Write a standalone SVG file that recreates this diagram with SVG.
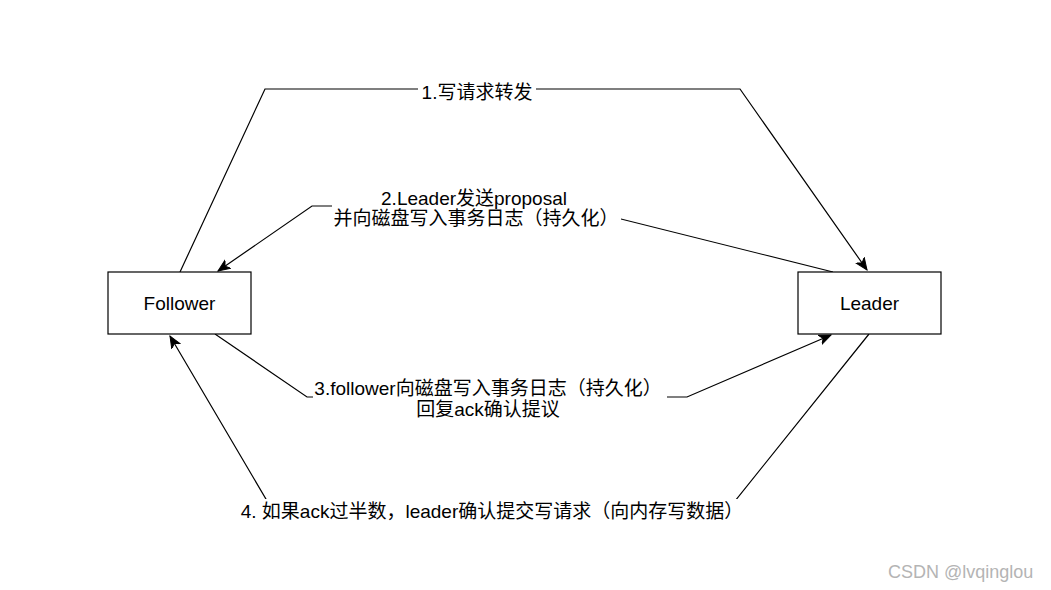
<svg xmlns="http://www.w3.org/2000/svg" width="1051" height="590" viewBox="0 0 1051 590">
  <style>
    .node { fill: #ffffff; stroke: #000000; stroke-width: 1.2; }
    .edge { fill: none; stroke: #000000; stroke-width: 1.2; }
    .lbl-bg { fill: #ffffff; stroke: none; }
    text { font-family: "Liberation Sans", Arial, "Noto Sans CJK SC", sans-serif; font-size: 19px; fill: #000000; text-anchor: middle; }
    .wm { font-size: 18px; fill: #b4b4b4; text-anchor: start; }
  </style>
  <defs>
    <marker id="arrow" markerUnits="userSpaceOnUse" markerWidth="14" markerHeight="12" refX="12" refY="5" orient="auto" viewBox="0 0 14 10">
      <path d="M0,0 L12,5 L0,10 L3.5,5 Z" fill="#000000" stroke="#000000" stroke-width="1"/>
    </marker>
  </defs>
  <rect x="0" y="0" width="1051" height="590" fill="#ffffff"/>

  <g id="connectors">
    <g id="edge1">
      <polyline class="edge" points="180,272 265,89 740,89 867,270" marker-end="url(#arrow)"/>
      <rect class="lbl-bg" x="418" y="79" width="118" height="24"/>
      <text x="477" y="99">1.写请求转发</text>
    </g>
    <g id="edge2">
      <polyline class="edge" points="833,272 569,206 312,206 218,271" marker-end="url(#arrow)"/>
      <rect class="lbl-bg" x="332" y="186" width="289" height="44"/>
      <text x="474" y="205">2.Leader发送proposal</text>
      <text x="476" y="225">并向磁盘写入事务日志（持久化）</text>
    </g>
    <g id="edge3">
      <polyline class="edge" points="215,334 307,397 687,397 831,335" marker-end="url(#arrow)"/>
      <rect class="lbl-bg" x="313" y="376" width="354" height="46"/>
      <text x="488" y="395">3.follower向磁盘写入事务日志（持久化）</text>
      <text x="488" y="416">回复ack确认提议</text>
    </g>
    <g id="edge4">
      <polyline class="edge" points="869,334 727,511 273,511 170,336" marker-end="url(#arrow)"/>
      <rect class="lbl-bg" x="239" y="499" width="501" height="26"/>
      <text x="492" y="518">4. 如果ack过半数，leader确认提交写请求（向内存写数据）</text>
    </g>
  </g>

  <g id="follower">
    <rect class="node" x="108" y="272" width="143" height="62"/>
    <text x="179.5" y="310">Follower</text>
  </g>
  <g id="leader">
    <rect class="node" x="798" y="272" width="143" height="62"/>
    <text x="869.5" y="310">Leader</text>
  </g>

  <text class="wm" x="888" y="578">CSDN @lvqinglou</text>
</svg>
